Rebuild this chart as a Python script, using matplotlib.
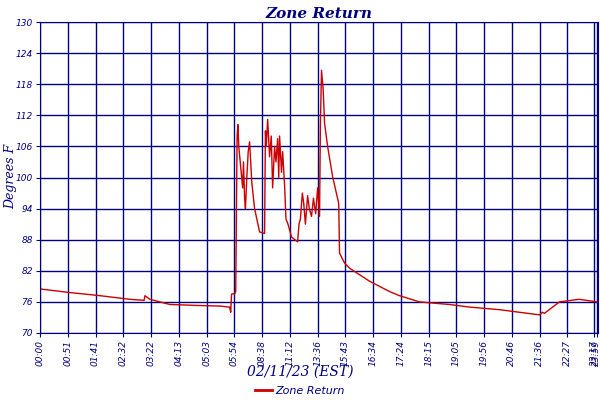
import matplotlib
matplotlib.use("Agg")
import matplotlib.pyplot as plt
from matplotlib.lines import Line2D

NAVY = "#00007f"
RED = "#cc0000"

# x positions are in tick slots (evenly spaced labels)
tick_labels = ["00:00", "00:51", "01:41", "02:32", "03:22", "04:13", "05:03", "05:54",
               "08:38", "11:12", "13:36", "15:43", "16:34", "17:24", "18:15", "19:05",
               "19:56", "20:46", "21:36", "22:27", "23:17", "23:59"]
tick_pos = list(range(20)) + [19.97, 20.05]

pos = [0, 1.08, 2.16, 3.24, 3.75, 3.78, 3.96, 4.68, 5.76, 6.47, 6.83, 6.87, 6.9, 7.02, 7.05,
       7.1, 7.13, 7.16, 7.3, 7.33, 7.37, 7.4, 7.45, 7.5, 7.55, 7.63, 7.73, 7.91, 8.09,
       8.12, 8.15, 8.2, 8.27, 8.33, 8.38, 8.45, 8.5, 8.56, 8.6, 8.63, 8.7, 8.74, 8.81,
       8.86, 8.92, 8.96, 9.06, 9.28, 9.33, 9.38, 9.45, 9.5, 9.56, 9.64, 9.7, 9.78, 9.85,
       9.93, 10.0, 10.07, 10.1, 10.14, 10.2, 10.25, 10.36, 10.54, 10.76, 10.79, 10.97,
       11.15, 11.87, 12.59, 12.95, 13.67, 14.75, 15.47, 16.55, 17.27, 17.99, 18.1, 18.17,
       18.71, 19.42, 20.07]
vals = [78.5, 77.8, 77.2, 76.5, 76.3, 77.2, 76.5, 75.5, 75.3, 75.2, 75.0, 74.0, 77.5, 77.6,
        78.0, 108, 110.2, 106, 98, 103, 96, 94, 100, 105, 106.9, 99, 94, 89.5, 89.2,
        109, 106, 111.2, 104, 108, 98, 106, 103, 107.5, 100, 108, 101, 105, 98.5,
        92, 91.2, 90.5, 88.5, 87.6, 91, 92, 97, 95, 91, 96.5, 94, 92.5, 96,
        93, 98, 92.5, 110, 120.7, 117, 110.5, 106, 100.2, 95, 85.4, 83.5,
        82.5, 80, 78, 77.2, 76, 75.5, 75.0, 74.5, 74.0, 73.5, 74.0, 73.8,
        76, 76.5, 76]

fig = plt.figure(figsize=(6, 4), dpi=100)
ax = fig.add_axes([40 / 600, 67 / 400, 558 / 600, 311 / 400])

ax.plot(pos, vals, color=RED, lw=1)
ax.set_xlim(0, 20.1)
ax.set_ylim(70, 130)
ax.set_yticks(range(70, 131, 6))
ax.set_xticks(tick_pos)
ax.set_xticklabels(tick_labels, rotation=90, fontsize=6.5, style="italic", color=NAVY)
for t in ax.get_yticklabels():
    t.set_fontsize(6.5)
    t.set_style("italic")
    t.set_color(NAVY)
ax.grid(True, color=NAVY, lw=1)
ax.tick_params(colors=NAVY, length=3, pad=2)
for s in ax.spines.values():
    s.set_color(NAVY)

ax.set_title("Zone Return", fontsize=11, style="italic", weight="bold", color=NAVY, pad=3,
             family="DejaVu Serif")
fig.text(0.017, 0.56, "Degrees F", rotation=90, ha="center", va="center", fontsize=9,
         style="italic", color=NAVY, family="DejaVu Serif")
fig.text(0.5, 1 - 372 / 400, "02/11/23 (EST)", ha="center", va="center", fontsize=10,
         style="italic", color=NAVY, family="DejaVu Serif")

handle = Line2D([], [], color=RED, lw=2)
leg = fig.legend([handle], ["Zone Return"], loc="center", bbox_to_anchor=(0.5, 0.022),
                 frameon=False, fontsize=8, handlelength=1.5, handletextpad=0.3)
for t in leg.get_texts():
    t.set_color(NAVY)
    t.set_style("italic")

fig.savefig("out.png", dpi=100)
